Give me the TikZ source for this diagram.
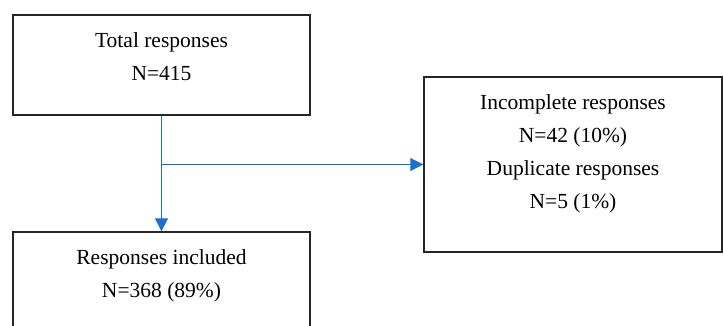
\documentclass[tikz,border=0pt]{standalone}
\usepackage{fontspec}
\setmainfont{Liberation Serif}
\usepackage{tikz}
\usetikzlibrary{positioning}
\usetikzlibrary{arrows.meta}

\definecolor{flowblue}{RGB}{28,112,205}

\tikzset{
  box/.style={draw=black!85, line width=1.4pt, minimum width=297pt},
  boxtext/.style={inner sep=0pt, anchor=north, align=center,
    font=\fontsize{21.5}{33}\selectfont},
  flow/.style={draw=flowblue, line width=1pt, -{Triangle[length=13pt,width=13pt]}}
}

\begin{document}
\begin{tikzpicture}[x=1pt,y=1pt]
    % 画布范围
    \useasboundingbox (0,0) rectangle (723,-325);
    \clip (0,0) rectangle (723,-325);

    % 三个方框
    \node[box, minimum height=100pt] (total) at (161.5,-65) {};
    \node[box, minimum width=298pt, minimum height=175pt] (excluded) at (573,-164.5) {};
    \node[box, minimum height=100pt] (included) at (161.5,-282) {};

    % 方框中的文字
    \node[boxtext, below=18pt of total.north] (totaltxt) {Total responses\\N=415};
    \node[boxtext, below=18pt of excluded.north] (excludedtxt) {Incomplete responses\\N=42 (10\%)\\Duplicate responses\\N=5 (1\%)};
    \node[boxtext, below=18pt of included.north] (includedtxt) {Responses included\\N=368 (89\%)};

    % 箭头
    \coordinate (split) at (total.south |- excluded.west);
    \draw[flow] (total.south) -- (included.north);
    \draw[flow] (split) -- (excluded.west);

\end{tikzpicture}
\end{document}
